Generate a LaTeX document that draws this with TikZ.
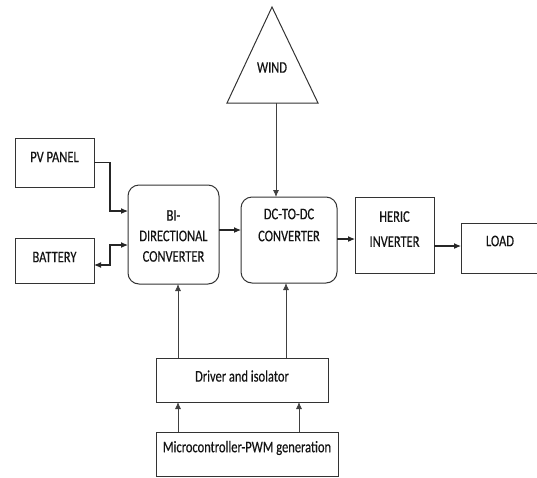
\documentclass[tikz,border=0pt]{standalone}
\usepackage{fontspec}
\setmainfont{Carlito}[FakeStretch=0.77,FakeBold=0.3]
\usetikzlibrary{arrows.meta}
\begin{document}
\begin{tikzpicture}[x=1pt,y=-1pt,
  box/.style={draw=black!80, line width=1pt, inner sep=0pt, outer sep=0pt, fill=white},
  rbox/.style={box, rounded corners=11pt},
  txt/.style={text=black!92, font=\fontsize{16.2}{21}\selectfont, align=center, inner sep=0pt},
  arr/.style={draw=black!85, line width=1.1pt, -{Latex[length=7pt,width=6pt]}},
  arrb/.style={draw=black!85, line width=1.1pt, {Latex[length=7pt,width=6pt]}-{Latex[length=7pt,width=6pt]}},
  tarr/.style={draw=black!75, line width=0.8pt, -{Latex[length=7pt,width=6pt]}}]
\useasboundingbox (0,0) rectangle (537,477);
\clip (0,0) rectangle (537,477);
% boxes
\node[box, minimum width=79pt, minimum height=49pt,
  label={[txt,yshift=5.5pt]center:PV PANEL}] (pv) at (54.5,162.5) {};
\node[box, minimum width=79pt, minimum height=45pt,
  label={[txt,yshift=3.5pt]center:BATTERY}] (bat) at (54.5,260.5) {};
\node[rbox, minimum width=91pt, minimum height=99pt,
  label={[txt,yshift=-1.5pt,font=\fontsize{16.2}{20.5}\selectfont]center:{BI-\\DIRECTIONAL\\CONVERTER}}] (bidir) at (173.5,234.5) {};
\node[rbox, minimum width=96pt, minimum height=86pt,
  label={[txt,yshift=15pt,font=\fontsize{16.2}{22}\selectfont]center:{DC-TO-DC\\CONVERTER}}] (dcdc) at (289,240) {};
\node[box, minimum width=79pt, minimum height=76pt,
  label={[txt,yshift=6pt,font=\fontsize{16.2}{25}\selectfont]center:{HERIC\\INVERTER}}] (heric) at (394.5,235) {};
\node[box, minimum width=78pt, minimum height=50pt,
  label={[txt,yshift=7pt]center:LOAD}] (load) at (500,248) {};
\node[box, minimum width=172pt, minimum height=44pt,
  label={[txt,yshift=4pt]center:Driver and isolator}] (drv) at (242,380) {};
\node[box, minimum width=182pt, minimum height=44pt,
  label={[txt,yshift=6pt]center:Microcontroller-PWM generation}] (mcu) at (247,454) {};
% wind triangle
\draw[draw=black!80, line width=1pt] (272,7) -- (318,103) -- (227,103) -- cycle;
\node[txt] (wind) at (272,67.5) {WIND};
\coordinate (windbase) at (276,103);
% helper coordinates
\coordinate (xj) at (110,0);
\coordinate (ypv) at (0,211);
\coordinate (ybat) at (0,265);
\coordinate (ybin) at (0,245);
\coordinate (ybd) at (0,230);
\coordinate (yhe) at (0,239);
\coordinate (ylo) at (0,246);
\coordinate (xa) at (178,0);
\coordinate (xb) at (286,0);
\coordinate (xc) at (299,0);
% connectors
\draw[arr] (pv.east) -- (pv.east -| xj) |- (bidir.west |- ypv);
\draw[arrb] (bat.east |- ybat) -- (xj |- ybat) |- (bidir.west |- ybin);
\draw[arr] (bidir.east |- ybd) -- (dcdc.west |- ybd);
\draw[tarr] (windbase) -- (windbase |- dcdc.north);
\draw[arr] (dcdc.east |- yhe) -- (heric.west |- yhe);
\draw[arr] (heric.east |- ylo) -- (load.west |- ylo);
\draw[tarr] (drv.north -| xa) -- (bidir.south -| xa);
\draw[tarr] (drv.north -| xb) -- (dcdc.south -| xb);
\draw[tarr] (mcu.north -| xa) -- (drv.south -| xa);
\draw[tarr] (mcu.north -| xc) -- (drv.south -| xc);
\end{tikzpicture}
\end{document}
